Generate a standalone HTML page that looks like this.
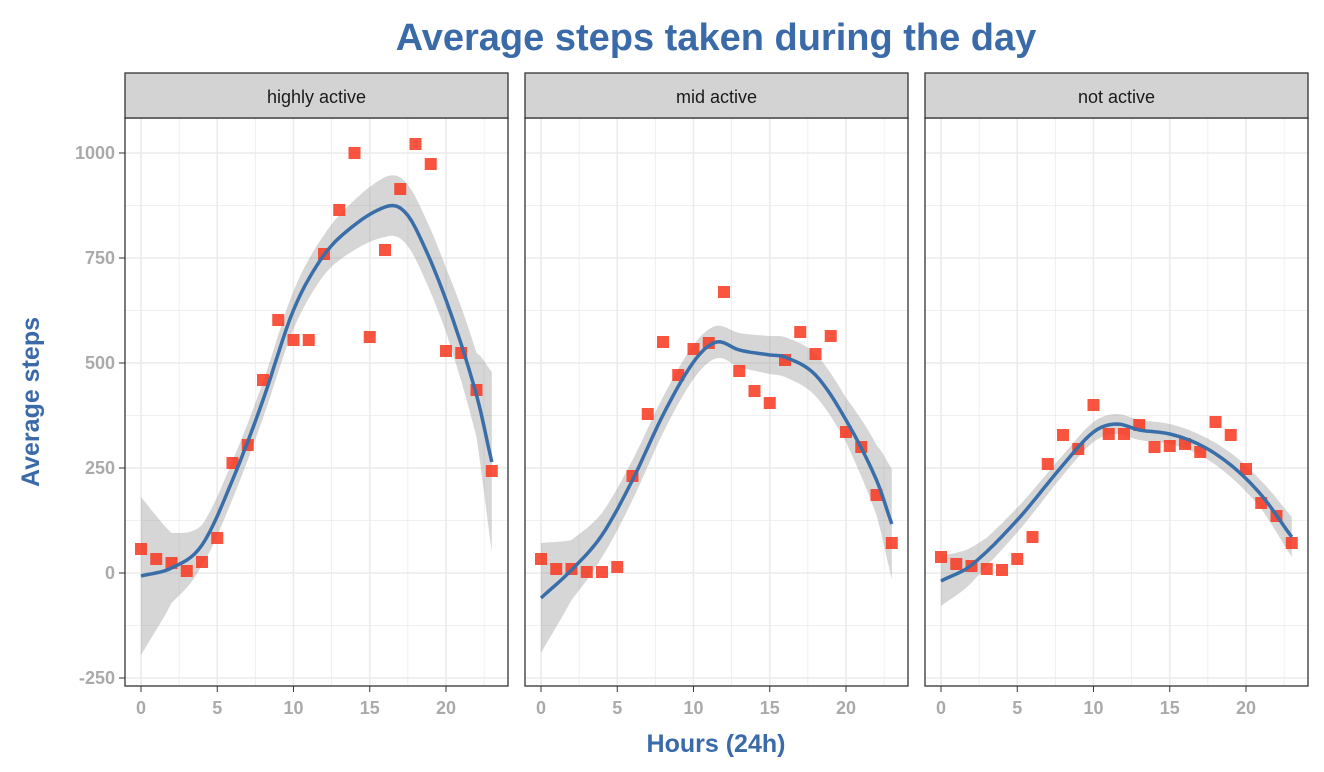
<!DOCTYPE html>
<html><head><meta charset="utf-8"><style>
body{margin:0;background:#fff;}
svg{display:block;font-family:"Liberation Sans",sans-serif;}
</style></head><body>
<svg id="s" width="1324" height="772" xmlns="http://www.w3.org/2000/svg"></svg>
<script>
const s=document.getElementById('s');let h='';
const Y=v=>573-0.42*v;
const panels=[
{x0:125,name:'highly active',
pts:[549,559,563,571,562,538,463,445,380,320,340,340,254,210,153,337,250,189,144,164,351,353,390,471],
line:[[0,576],[2,568],[4,545],[6,480],[8,400],[10,310],[12,255],[14,225],[16,207],[17,208],[18,228],[20,300],[22,395],[23,462]],
bw:[[0,79],[2,35],[4,20],[8,18],[12,20],[16,30],[20,32],[22,42],[23,90]]},
{x0:525,name:'mid active',
pts:[559,569,569,572,572,567,476,414,342,375,349,343,292,371,391,403,360,332,354,336,432,447,495,543],
line:[[0,598],[2,570],[4,535],[6,480],[8,415],[10,362],[11.5,342],[13,350],[15,355],[16,357],[18,375],[20,420],[22,480],[23,524]],
bw:[[0,55],[2,30],[4,22],[8,18],[12,16],[16,20],[20,22],[22,35],[23,55]]},
{x0:925,name:'not active',
pts:[557,564,566,569,570,559,537,464,435,449,405,434,434,425,447,446,444,452,422,435,469,503,516,543],
line:[[0,581],[2,565],[5,520],[8,465],[10,432],[11.5,424],[13,430],[15,434],[17,445],[19,465],[21,495],[23,537]],
bw:[[0,25],[3,14],[8,10],[12,10],[17,10],[21,14],[23,20]]}];
function interp(arr,t){for(let i=0;i<arr.length-1;i++){if(t<=arr[i+1][0]){const a=arr[i],b=arr[i+1],f=(t-a[0])/(b[0]-a[0]);return a[1]+f*(b[1]-a[1]);}}return arr[arr.length-1][1];}
function cr(arr,t){
 let i=0;while(i<arr.length-2&&t>arr[i+1][0])i++;
 const p1=arr[i],p2=arr[i+1],p0=arr[i-1]||p1,p3=arr[i+2]||p2;
 const f=(t-p1[0])/(p2[0]-p1[0]);
 const m1=(p2[1]-p0[1])/((p2[0]-p0[0])||1),m2=(p3[1]-p1[1])/((p3[0]-p1[0])||1);
 const d=p2[0]-p1[0],f2=f*f,f3=f2*f;
 return (2*f3-3*f2+1)*p1[1]+(f3-2*f2+f)*d*m1+(-2*f3+3*f2)*p2[1]+(f3-f2)*d*m2;}
panels.forEach(p=>{
 const X=t=>p.x0+16+t*15.25, L=p.x0, R=p.x0+383;
 h+=`<rect x="${L}" y="118" width="383" height="568" fill="#fff"/>`;
 for(let v=-250;v<=1000;v+=125){const y=Y(v);if(y<118)continue;h+=`<line x1="${L}" x2="${R}" y1="${y}" y2="${y}" stroke="#ebebeb" stroke-width="${v%250?0.8:1.6}"/>`;}
 for(let t=0;t<=22.5;t+=2.5){const x=X(t);h+=`<line x1="${x}" x2="${x}" y1="118" y2="686" stroke="#ebebeb" stroke-width="${t%5?0.8:1.6}"/>`;}
 let up=[],dn=[],ln=[];
 for(let t=0;t<=23.001;t+=0.25){const y=cr(p.line,t),w=interp(p.bw,t);ln.push(X(t).toFixed(1)+','+y.toFixed(1));up.push(X(t).toFixed(1)+','+(y-w).toFixed(1));dn.unshift(X(t).toFixed(1)+','+(y+w).toFixed(1));}
 h+=`<polygon points="${up.concat(dn).join(' ')}" fill="#999" fill-opacity="0.4"/>`;
 p.pts.forEach((y,t)=>{h+=`<rect x="${X(t)-6}" y="${y-6}" width="12" height="12" fill="#f8361f" fill-opacity="0.85"/>`;});
 h+=`<polyline points="${ln.join(' ')}" fill="none" stroke="#3a6ea8" stroke-width="3.5"/>`;
 h+=`<rect x="${L}" y="118" width="383" height="568" fill="none" stroke="#333" stroke-width="1.3"/>`;
 h+=`<rect x="${L}" y="73" width="383" height="45" fill="#d3d3d3" stroke="#333" stroke-width="1.3"/>`;
 h+=`<text x="${L+191.5}" y="103" font-size="18" text-anchor="middle" fill="#1a1a1a">${p.name}</text>`;
 for(let t=0;t<=20;t+=5){const x=X(t);h+=`<line x1="${x}" x2="${x}" y1="686" y2="692" stroke="#333"/><text x="${x}" y="714" font-size="18" font-weight="bold" fill="#aaa" text-anchor="middle">${t}</text>`;}
});
for(let v=-250;v<=1000;v+=250){const y=Y(v);h+=`<line x1="119" x2="125" y1="${y}" y2="${y}" stroke="#333"/><text x="115" y="${y+6}" font-size="18" font-weight="bold" fill="#aaa" text-anchor="end">${v}</text>`;}
h+=`<text x="716" y="50" font-size="38" font-weight="bold" fill="#3a6aa8" text-anchor="middle">Average steps taken during the day</text>`;
h+=`<text x="716" y="752" font-size="25" font-weight="bold" fill="#3a6aa8" text-anchor="middle">Hours (24h)</text>`;
h+=`<text transform="translate(39,402) rotate(-90)" font-size="25" font-weight="bold" fill="#3a6aa8" text-anchor="middle">Average steps</text>`;
s.innerHTML=h;
</script>
</body></html>
